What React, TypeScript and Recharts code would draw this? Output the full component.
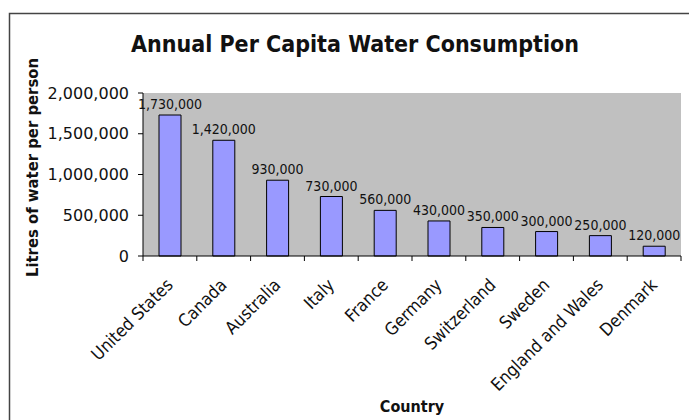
import { BarChart, Bar, XAxis, YAxis, CartesianGrid, LabelList } from 'recharts';

const countries = [
  'United States',
  'Canada',
  'Australia',
  'Italy',
  'France',
  'Germany',
  'Switzerland',
  'Sweden',
  'England and Wales',
  'Denmark',
];
const litres = [1730000, 1420000, 930000, 730000, 560000, 430000, 350000, 300000, 250000, 120000];
const yTicks = [0, 500000, 1000000, 1500000, 2000000];

const data = countries.map((country, i) => ({ country, litres: litres[i] }));

const W = 689;
const H = 420;
const fmt = (v: number) => v.toLocaleString('en-US');
const COND = '"DejaVu Sans Condensed", "DejaVu Sans", sans-serif';

const CountryTick = (props: any) => {
  const { x, y, payload, index, visibleTicksCount } = props;
  const half = payload?.offset ?? 27;
  const last = index === (visibleTicksCount ?? countries.length) - 1;
  const tx = x - 5;
  const ty = y + 21;
  return (
    <g>
      <line x1={x - half} y1={y} x2={x - half} y2={y + 5} stroke="#000" />
      {last && <line x1={x + half} y1={y} x2={x + half} y2={y + 5} stroke="#000" />}
      <text
        x={tx}
        y={ty}
        transform={`rotate(-45, ${tx}, ${ty})`}
        textAnchor="end"
        dominantBaseline="hanging"
        fontFamily={COND}
        fontSize={17.5}
        fill="#111"
      >
        {payload.value}
      </text>
    </g>
  );
};

const YTitle = (props: any) => {
  const vb = props.viewBox || {};
  const cx = 32;
  const cy = vb.y + vb.height / 2 - 7;
  return (
    <text
      x={cx}
      y={cy}
      transform={`rotate(-90, ${cx}, ${cy})`}
      textAnchor="middle"
      dominantBaseline="central"
      fontFamily={COND}
      fontWeight="bold"
      fontSize={16.5}
      fill="#111"
    >
      Litres of water per person
    </text>
  );
};

export default function App() {
  return (
    <div style={{ position: 'absolute', left: 0, top: 0, width: W, height: H, background: '#fff' }}>
      <svg width={W} height={H} style={{ position: 'absolute', left: 0, top: 0 }}>
        <rect x={9.5} y={13.5} width={720} height={440} fill="none" stroke="#444" strokeWidth={1.5} />
        <text
          x={355}
          y={52}
          textAnchor="middle"
          fontFamily={COND}
          fontWeight="bold"
          fontSize={23}
          fill="#111"
        >
          Annual Per Capita Water Consumption
        </text>
      </svg>
      <div style={{ position: 'absolute', left: 0, top: 0 }}>
        <BarChart
          width={W}
          height={H}
          data={data}
          margin={{ top: 93, right: 8, bottom: 6, left: 30 }}
        >
          <CartesianGrid horizontal={false} vertical={false} fill="#c0c0c0" />
          <XAxis
            dataKey="country"
            interval={0}
            height={158}
            tickLine={false}
            tickSize={0}
            tickMargin={0}
            axisLine={{ stroke: '#000' }}
            tick={<CountryTick />}
            label={{
              value: 'Country',
              position: 'insideBottom',
              offset: 2,
              style: { fontFamily: COND, fontWeight: 'bold', fontSize: 16, fill: '#111' },
            }}
          />
          <YAxis
            width={113}
            domain={[0, 2000000]}
            ticks={yTicks}
            tickFormatter={fmt}
            tickSize={5}
            tickMargin={9}
            axisLine={{ stroke: '#000' }}
            tickLine={{ stroke: '#000' }}
            tick={{ fontFamily: '"DejaVu Sans", sans-serif', fontSize: 16, fill: '#111' }}
            label={<YTitle />}
          />
          <Bar dataKey="litres" fill="#9999ff" stroke="#000" strokeWidth={1} barSize={22} isAnimationActive={false}>
            <LabelList
              dataKey="litres"
              position="top"
              offset={6}
              formatter={(v: any) => fmt(Number(v))}
              style={{ fontFamily: COND, fontSize: 14, fill: '#111' }}
            />
          </Bar>
        </BarChart>
      </div>
    </div>
  );
}
